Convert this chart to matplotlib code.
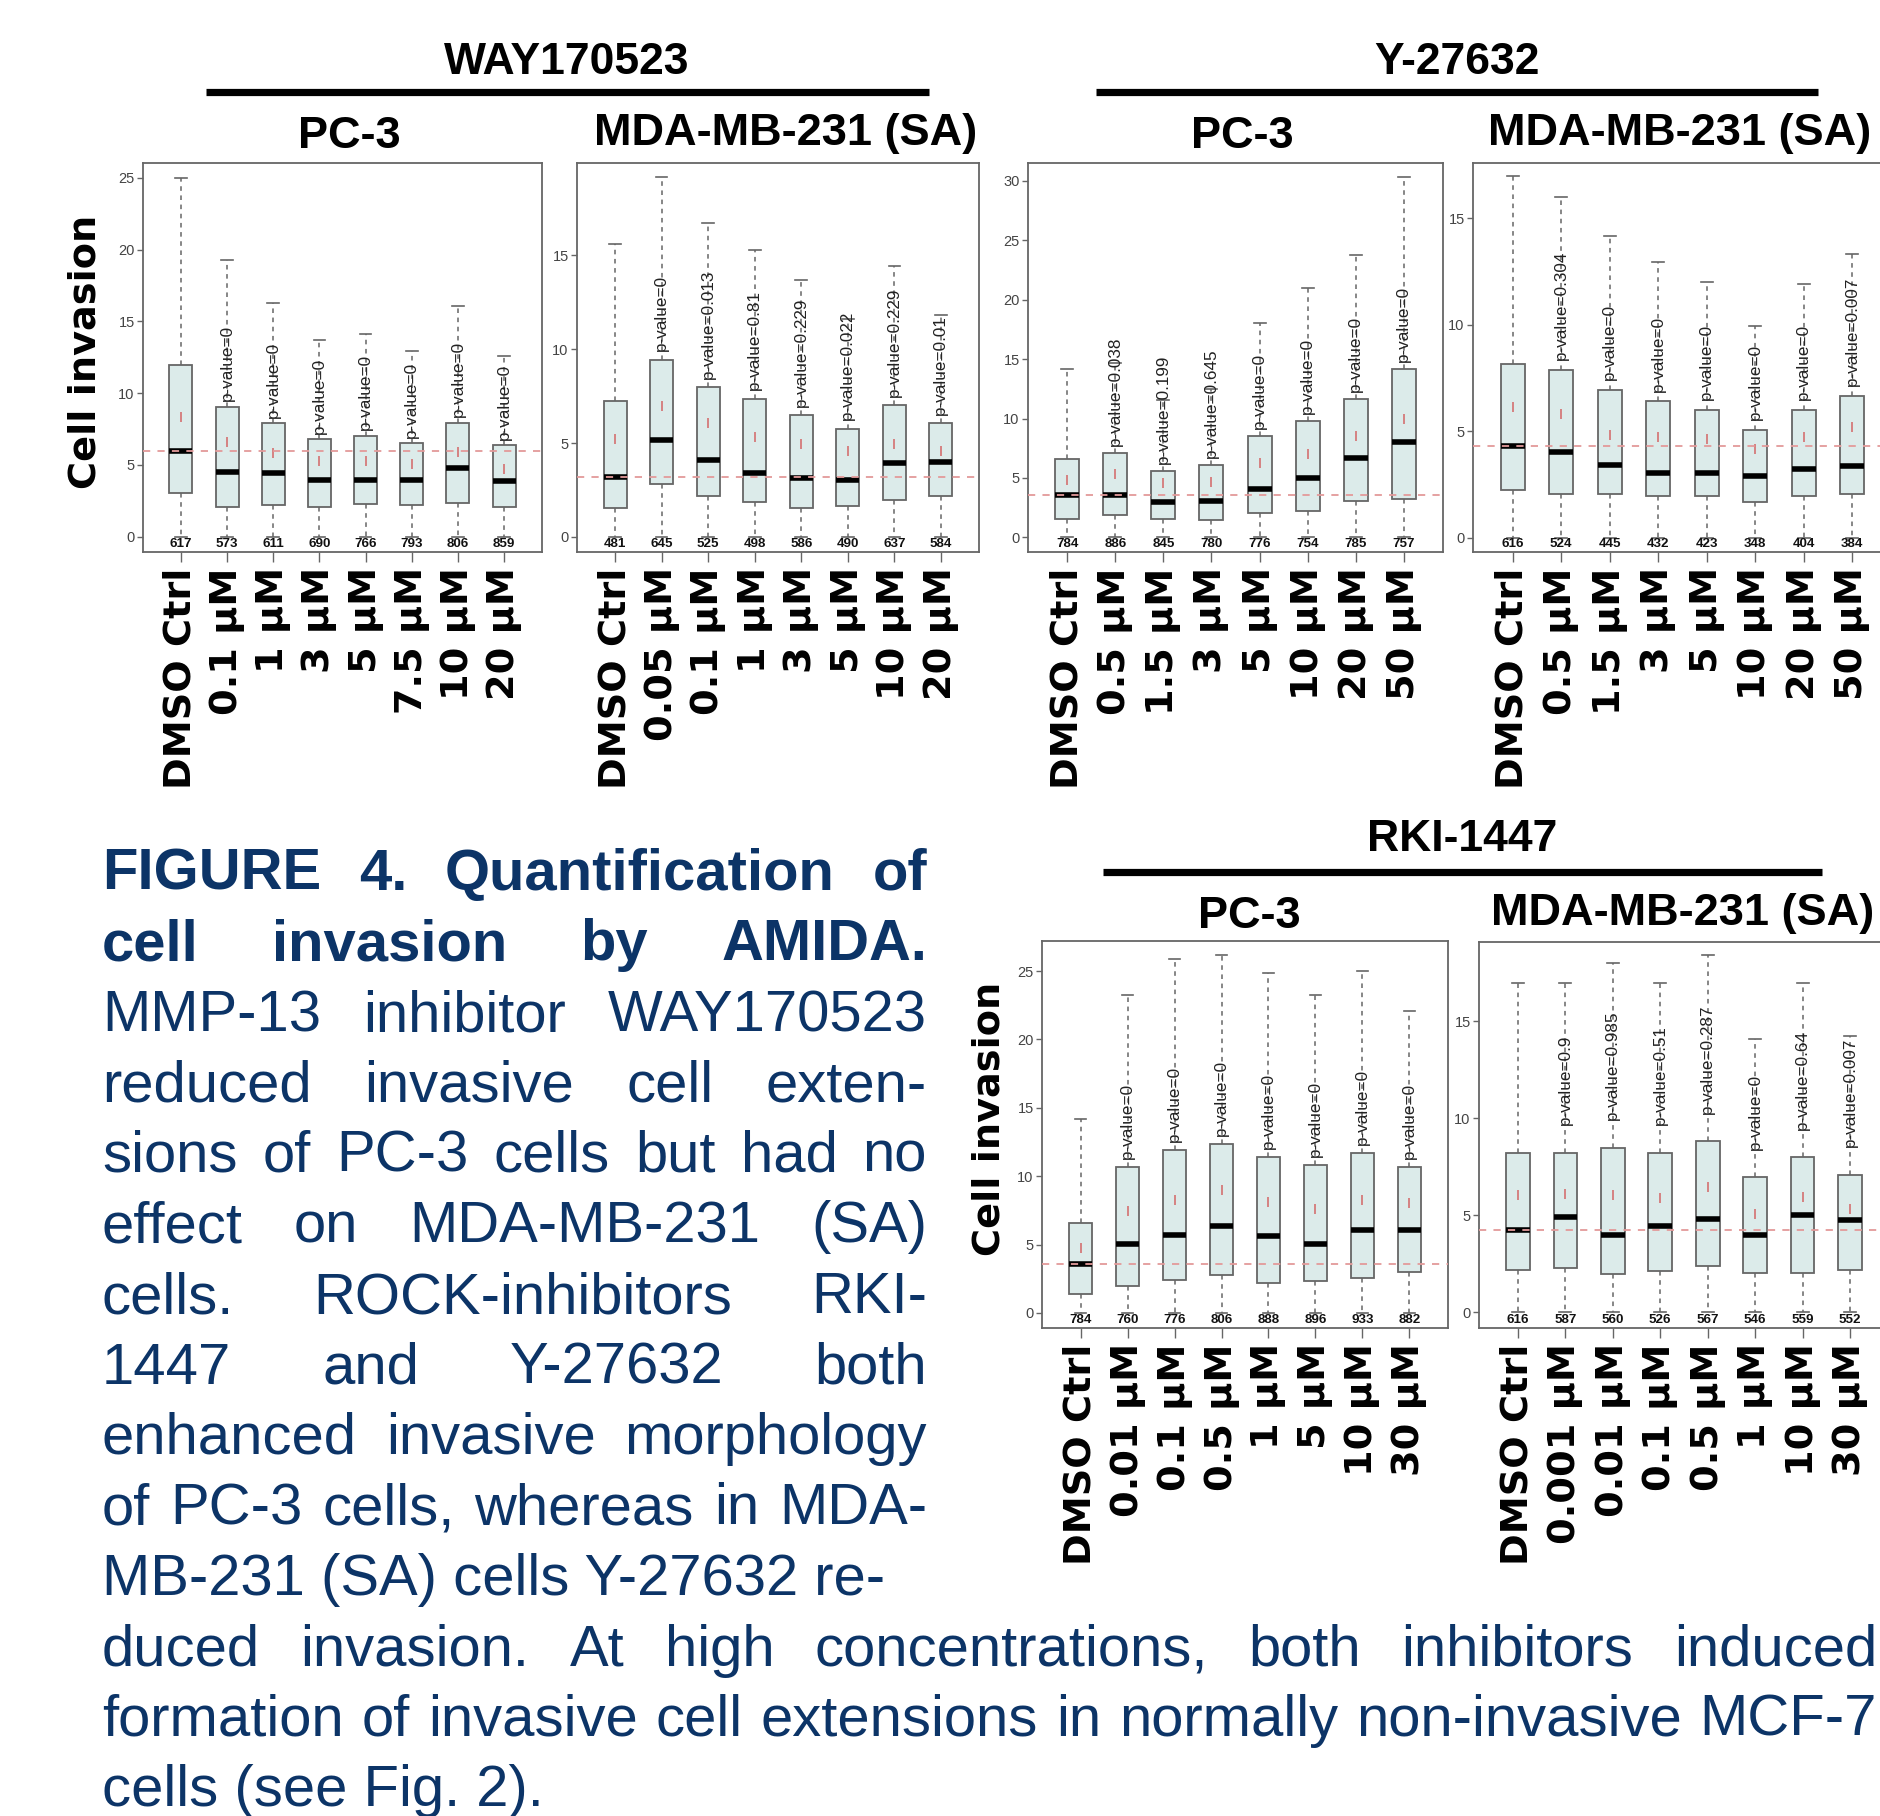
import matplotlib
matplotlib.use("Agg")
import matplotlib.pyplot as plt
from matplotlib import font_manager
from matplotlib.lines import Line2D
from matplotlib.transforms import blended_transform_factory

# ---------------- data ----------------
WAY_PC3_LABELS = ["DMSO Ctrl", "0.1 μM", "1 μM", "3 μM", "5 μM", "7.5 μM", "10 μM", "20 μM"]
WAY_PC3_LO = [0, 0, 0, 0, 0, 0, 0, 0]
WAY_PC3_Q1 = [3.02, 2.04, 2.18, 2.04, 2.25, 2.20, 2.37, 2.04]
WAY_PC3_MED = [5.97, 4.53, 4.41, 3.95, 3.95, 3.95, 4.76, 3.88]
WAY_PC3_Q3 = [11.95, 9.03, 7.89, 6.78, 7.01, 6.50, 7.94, 6.38]
WAY_PC3_HI = [25.0, 19.27, 16.25, 13.7, 14.1, 12.9, 16.1, 12.6]
WAY_PC3_MEAN = [8.36, 6.57, 5.80, 5.29, 5.29, 5.04, 5.92, 4.69]
WAY_PC3_N = [617, 573, 611, 690, 766, 793, 806, 859]
WAY_PC3_P = ["0", "0", "0", "0", "0", "0", "0"]
WAY_PC3_REF = 5.97

WAY_MDA_LABELS = ["DMSO Ctrl", "0.05 μM", "0.1 μM", "1 μM", "3 μM", "5 μM", "10 μM", "20 μM"]
WAY_MDA_LO = [0, 0, 0, 0, 0, 0, 0, 0]
WAY_MDA_Q1 = [1.54, 2.84, 2.18, 1.86, 1.56, 1.65, 1.99, 2.20]
WAY_MDA_MED = [3.19, 5.14, 4.08, 3.40, 3.14, 3.01, 3.95, 3.99]
WAY_MDA_Q3 = [7.23, 9.43, 7.98, 7.36, 6.47, 5.76, 7.00, 6.06]
WAY_MDA_HI = [15.6, 19.15, 16.7, 15.28, 13.69, 11.6, 14.4, 11.8]
WAY_MDA_MEAN = [5.23, 6.95, 6.06, 5.32, 4.93, 4.56, 4.93, 4.57]
WAY_MDA_N = [481, 645, 525, 498, 586, 490, 637, 584]
WAY_MDA_P = ["0", "0.013", "0.81", "0.229", "0.022", "0.229", "0.01"]
WAY_MDA_REF = 3.19

Y_PC3_LABELS = ["DMSO Ctrl", "0.5 μM", "1.5 μM", "3 μM", "5 μM", "10 μM", "20 μM", "50 μM"]
Y_PC3_LO = [0, 0, 0, 0, 0, 0, 0, 0]
Y_PC3_Q1 = [1.54, 1.85, 1.54, 1.48, 2.04, 2.18, 3.03, 3.22]
Y_PC3_MED = [3.59, 3.53, 3.00, 3.05, 4.06, 4.99, 6.67, 8.01]
Y_PC3_Q3 = [6.58, 7.09, 5.60, 6.10, 8.57, 9.80, 11.62, 14.17]
Y_PC3_HI = [14.2, 14.65, 11.6, 12.5, 18.0, 20.95, 23.75, 30.28]
Y_PC3_MEAN = [4.85, 5.32, 4.57, 4.70, 6.25, 7.03, 8.49, 9.94]
Y_PC3_N = [784, 886, 845, 780, 776, 754, 785, 757]
Y_PC3_P = ["0.038", "0.199", "0.645", "0", "0", "0", "0"]
Y_PC3_REF = 3.53

Y_MDA_LABELS = ["DMSO Ctrl", "0.5 μM", "1.5 μM", "3 μM", "5 μM", "10 μM", "20 μM", "50 μM"]
Y_MDA_LO = [0, 0, 0, 0, 0, 0, 0, 0]
Y_MDA_Q1 = [2.23, 2.05, 2.05, 1.97, 1.97, 1.69, 1.97, 2.05]
Y_MDA_MED = [4.31, 4.03, 3.41, 3.06, 3.05, 2.91, 3.22, 3.38]
Y_MDA_Q3 = [8.17, 7.89, 6.95, 6.41, 6.02, 5.08, 6.02, 6.66]
Y_MDA_HI = [17.0, 16.0, 14.16, 12.94, 12.0, 9.97, 11.92, 13.33]
Y_MDA_MEAN = [6.14, 5.83, 4.81, 4.73, 4.63, 4.19, 4.73, 5.20]
Y_MDA_N = [616, 524, 445, 432, 423, 348, 404, 384]
Y_MDA_P = ["0.304", "0", "0", "0", "0", "0", "0.007"]
Y_MDA_REF = 4.31

RKI_PC3_LABELS = ["DMSO Ctrl", "0.01 μM", "0.1 μM", "0.5 μM", "1 μM", "5 μM", "10 μM", "30 μM"]
RKI_PC3_LO = [0, 0, 0, 0, 0, 0, 0, 0]
RKI_PC3_Q1 = [1.39, 1.95, 2.44, 2.80, 2.20, 2.32, 2.56, 3.00]
RKI_PC3_MED = [3.59, 5.07, 5.68, 6.34, 5.61, 5.07, 6.05, 6.05]
RKI_PC3_Q3 = [6.59, 10.66, 11.88, 12.32, 11.39, 10.80, 11.70, 10.66]
RKI_PC3_HI = [14.2, 23.24, 25.9, 26.2, 24.88, 23.24, 25.0, 22.07]
RKI_PC3_MEAN = [4.76, 7.44, 8.24, 8.98, 8.12, 7.61, 8.24, 8.05]
RKI_PC3_N = [784, 760, 776, 806, 888, 896, 933, 882]
RKI_PC3_P = ["0", "0", "0", "0", "0", "0", "0"]
RKI_PC3_REF = 3.59

RKI_MDA_LABELS = ["DMSO Ctrl", "0.001 μM", "0.01 μM", "0.1 μM", "0.5 μM", "1 μM", "10 μM", "30 μM"]
RKI_MDA_LO = [0, 0, 0, 0, 0, 0, 0, 0]
RKI_MDA_Q1 = [2.16, 2.29, 1.98, 2.15, 2.41, 2.03, 2.03, 2.20]
RKI_MDA_MED = [4.26, 4.91, 4.00, 4.47, 4.83, 4.00, 5.00, 4.74]
RKI_MDA_Q3 = [8.21, 8.21, 8.50, 8.21, 8.81, 6.96, 7.99, 7.10]
RKI_MDA_HI = [16.98, 16.98, 18.0, 16.98, 18.44, 14.1, 16.98, 14.26]
RKI_MDA_MEAN = [6.07, 6.12, 6.07, 5.89, 6.44, 5.09, 5.95, 5.33]
RKI_MDA_N = [616, 587, 560, 526, 567, 546, 559, 552]
RKI_MDA_P = ["0.9", "0.985", "0.51", "0.287", "0", "0.64", "0.007"]
RKI_MDA_REF = 4.26

CAPTION_LINES = [
    "FIGURE 4. Quantification of",
    "cell invasion by AMIDA.",
    "MMP-13 inhibitor WAY170523",
    "reduced invasive cell exten-",
    "sions of PC-3 cells but had no",
    "effect on MDA-MB-231 (SA)",
    "cells. ROCK-inhibitors RKI-",
    "1447 and Y-27632 both",
    "enhanced invasive morphology",
    "of PC-3 cells, whereas in MDA-",
    "MB-231 (SA) cells Y-27632 re-",
    "duced invasion. At high concentrations, both inhibitors induced",
    "formation of invasive cell extensions in normally non-invasive MCF-7",
    "cells (see Fig. 2).",
]

# ---------------- setup ----------------
W, H = 1880, 1816
fig = plt.figure(figsize=(W / 100, H / 100), dpi=100)
fig.patch.set_facecolor("white")

names = {f.name for f in font_manager.fontManager.ttflist}
HAS_NARROW = "Liberation Sans Narrow" in names
NARROW = "Liberation Sans Narrow" if HAS_NARROW else "Liberation Sans"
# sizes: (narrow font size, fallback regular font size)
SZ_TITLE = 36 if HAS_NARROW else 32
SZ_SUB = 37 if HAS_NARROW else 32.5
SZ_P = 13.5 if HAS_NARROW else 12.3
SZ_N = 11 if HAS_NARROW else 9.6
SZ_YT = 12 if HAS_NARROW else 10.5


def fx(px):
    return px / W


def fy(py):
    return 1 - py / H


def rect(l, r, t, b):
    return [l / W, 1 - b / H, (r - l) / W, (b - t) / H]


BOX_FACE = "#dcebea"
EDGE = "#666666"

panels = [
    dict(rect=rect(143, 542, 163, 552), ylim=(-1.07, 26.03), yt=[0, 5, 10, 15, 20, 25], poff=4,
         labels=WAY_PC3_LABELS, lo=WAY_PC3_LO, q1=WAY_PC3_Q1, med=WAY_PC3_MED, q3=WAY_PC3_Q3,
         hi=WAY_PC3_HI, mean=WAY_PC3_MEAN, n=WAY_PC3_N, p=WAY_PC3_P, ref=WAY_PC3_REF),
    dict(rect=rect(577, 979, 163, 552), ylim=(-0.8, 19.9), yt=[0, 5, 10, 15], poff=6,
         labels=WAY_MDA_LABELS, lo=WAY_MDA_LO, q1=WAY_MDA_Q1, med=WAY_MDA_MED, q3=WAY_MDA_Q3,
         hi=WAY_MDA_HI, mean=WAY_MDA_MEAN, n=WAY_MDA_N, p=WAY_MDA_P, ref=WAY_MDA_REF),
    dict(rect=rect(1028, 1443, 163, 552), ylim=(-1.23, 31.5), yt=[0, 5, 10, 15, 20, 25, 30], poff=5,
         labels=Y_PC3_LABELS, lo=Y_PC3_LO, q1=Y_PC3_Q1, med=Y_PC3_MED, q3=Y_PC3_Q3,
         hi=Y_PC3_HI, mean=Y_PC3_MEAN, n=Y_PC3_N, p=Y_PC3_P, ref=Y_PC3_REF),
    dict(rect=rect(1473, 1892, 163, 552), ylim=(-0.66, 17.6), yt=[0, 5, 10, 15], poff=7,
         labels=Y_MDA_LABELS, lo=Y_MDA_LO, q1=Y_MDA_Q1, med=Y_MDA_MED, q3=Y_MDA_Q3,
         hi=Y_MDA_HI, mean=Y_MDA_MEAN, n=Y_MDA_N, p=Y_MDA_P, ref=Y_MDA_REF),
    dict(rect=rect(1042, 1448, 941, 1328), ylim=(-1.1, 27.2), yt=[0, 5, 10, 15, 20, 25], poff=6,
         labels=RKI_PC3_LABELS, lo=RKI_PC3_LO, q1=RKI_PC3_Q1, med=RKI_PC3_MED, q3=RKI_PC3_Q3,
         hi=RKI_PC3_HI, mean=RKI_PC3_MEAN, n=RKI_PC3_N, p=RKI_PC3_P, ref=RKI_PC3_REF),
    dict(rect=rect(1479, 1889, 942, 1328), ylim=(-0.81, 19.1), yt=[0, 5, 10, 15], poff=20,
         labels=RKI_MDA_LABELS, lo=RKI_MDA_LO, q1=RKI_MDA_Q1, med=RKI_MDA_MED, q3=RKI_MDA_Q3,
         hi=RKI_MDA_HI, mean=RKI_MDA_MEAN, n=RKI_MDA_N, p=RKI_MDA_P, ref=RKI_MDA_REF),
]

for P in panels:
    ax = fig.add_axes(P["rect"])
    ax.set_facecolor("white")
    stats = []
    for lo, a, m, b, hi, mn in zip(P["lo"], P["q1"], P["med"], P["q3"], P["hi"], P["mean"]):
        stats.append(dict(whislo=lo, q1=a, med=m, q3=b, whishi=hi, mean=mn, fliers=[]))
    pos = list(range(1, len(stats) + 1))
    ax.bxp(stats, positions=pos, widths=0.5, patch_artist=True, showmeans=True,
           showfliers=False, capwidths=0.25, manage_ticks=False,
           boxprops=dict(facecolor=BOX_FACE, edgecolor=EDGE, linewidth=1.3),
           medianprops=dict(color="black", linewidth=4.0, solid_capstyle="butt"),
           whiskerprops=dict(color=EDGE, linestyle=(0, (3, 3)), linewidth=1.1),
           capprops=dict(color=EDGE, linewidth=1.2),
           meanprops=dict(marker="|", markersize=7, markeredgecolor="#d47070",
                          markeredgewidth=1.2, linestyle="none"))
    ax.set_xlim(0.18, 8.82)
    ax.set_ylim(*P["ylim"])
    ax.axhline(P["ref"], color="#e39a9a", lw=1.3, ls=(0, (4, 4)), zorder=6)

    ax.set_xticks(pos)
    ax.set_xticklabels(P["labels"], rotation=90, fontfamily="DejaVu Sans",
                       fontweight="bold", fontsize=27.5, va="top", ha="center")
    ax.tick_params(axis="x", length=7, width=1, color=EDGE, pad=4)
    ax.set_yticks(P["yt"])
    ax.set_yticklabels([str(v) for v in P["yt"]], fontfamily=NARROW, fontsize=SZ_YT, color="#444444")
    ax.tick_params(axis="y", length=4, width=1, color=EDGE, pad=2)
    for s in ax.spines.values():
        s.set_color(EDGE)
        s.set_linewidth(1.3)

    trans = blended_transform_factory(ax.transData, ax.transAxes)
    for x, n in zip(pos, P["n"]):
        ax.text(x, 0.006, str(n), transform=trans, ha="center", va="bottom",
                fontfamily=NARROW, fontweight="bold", fontsize=SZ_N, color="#111111", zorder=7)
    for x, pv, top in zip(pos[1:], P["p"], P["q3"][1:]):
        ax.annotate("p-value=" + pv, xy=(x, top), xytext=(0, P["poff"]),
                    textcoords="offset points", rotation=90, ha="center", va="bottom",
                    fontfamily=NARROW, fontsize=SZ_P, color="#222222")

# ---------------- titles ----------------
def title(txt, x, y, size):
    fig.text(fx(x), fy(y), txt, ha="center", va="center", fontfamily=NARROW,
             fontweight="bold", fontsize=size, color="black")


def bar(x0, x1, y):
    fig.add_artist(Line2D([fx(x0), fx(x1)], [fy(y), fy(y)], transform=fig.transFigure,
                          color="black", linewidth=5.2, solid_capstyle="butt"))


title("WAY170523", 567, 62, SZ_TITLE)
bar(206, 929, 92)
title("PC-3", 349, 137, SZ_SUB)
title("MDA-MB-231 (SA)", 786, 134, SZ_SUB)

title("Y-27632", 1457, 62, SZ_TITLE)
bar(1096, 1818, 92)
title("PC-3", 1242, 137, SZ_SUB)
title("MDA-MB-231 (SA)", 1680, 134, SZ_SUB)

title("RKI-1447", 1462, 839, SZ_TITLE)
bar(1103, 1822, 872)
title("PC-3", 1249, 917, SZ_SUB)
title("MDA-MB-231 (SA)", 1683, 913, SZ_SUB)

for (x, y) in [(86, 352), (990, 1119)]:
    fig.text(fx(x), fy(y), "Cell invasion", rotation=90, ha="center", va="center",
             fontfamily="DejaVu Sans", fontweight="bold", fontsize=27.5, color="black")

# ---------------- caption ----------------
CAP_COLOR = "#0c3467"
CAP_SIZE = 41.8
renderer = fig.canvas.get_renderer()
x_left = 102
col_right = 927
full_right = 1877
justify_to = {0: col_right, 1: col_right, 2: col_right, 3: col_right, 4: col_right,
              5: col_right, 6: col_right, 7: col_right, 8: col_right, 9: col_right,
              11: full_right, 12: full_right}
for i, line in enumerate(CAPTION_LINES):
    yb = 890 + 70.5 * i
    weight = "bold" if i < 2 else "normal"
    if i in justify_to:
        words = line.split(" ")
        objs = [fig.text(0, fy(yb), w, fontfamily="Liberation Sans", fontweight=weight,
                         fontsize=CAP_SIZE, color=CAP_COLOR, va="baseline", ha="left")
                for w in words]
        widths = [o.get_window_extent(renderer).width for o in objs]
        gap = (justify_to[i] - x_left - sum(widths)) / (len(words) - 1)
        x = x_left
        for o, w in zip(objs, widths):
            o.set_x(fx(x))
            x += w + gap
    else:
        fig.text(fx(x_left), fy(yb), line, fontfamily="Liberation Sans", fontweight=weight,
                 fontsize=CAP_SIZE, color=CAP_COLOR, va="baseline", ha="left")

fig.savefig("out.png", dpi=100, facecolor="white")
